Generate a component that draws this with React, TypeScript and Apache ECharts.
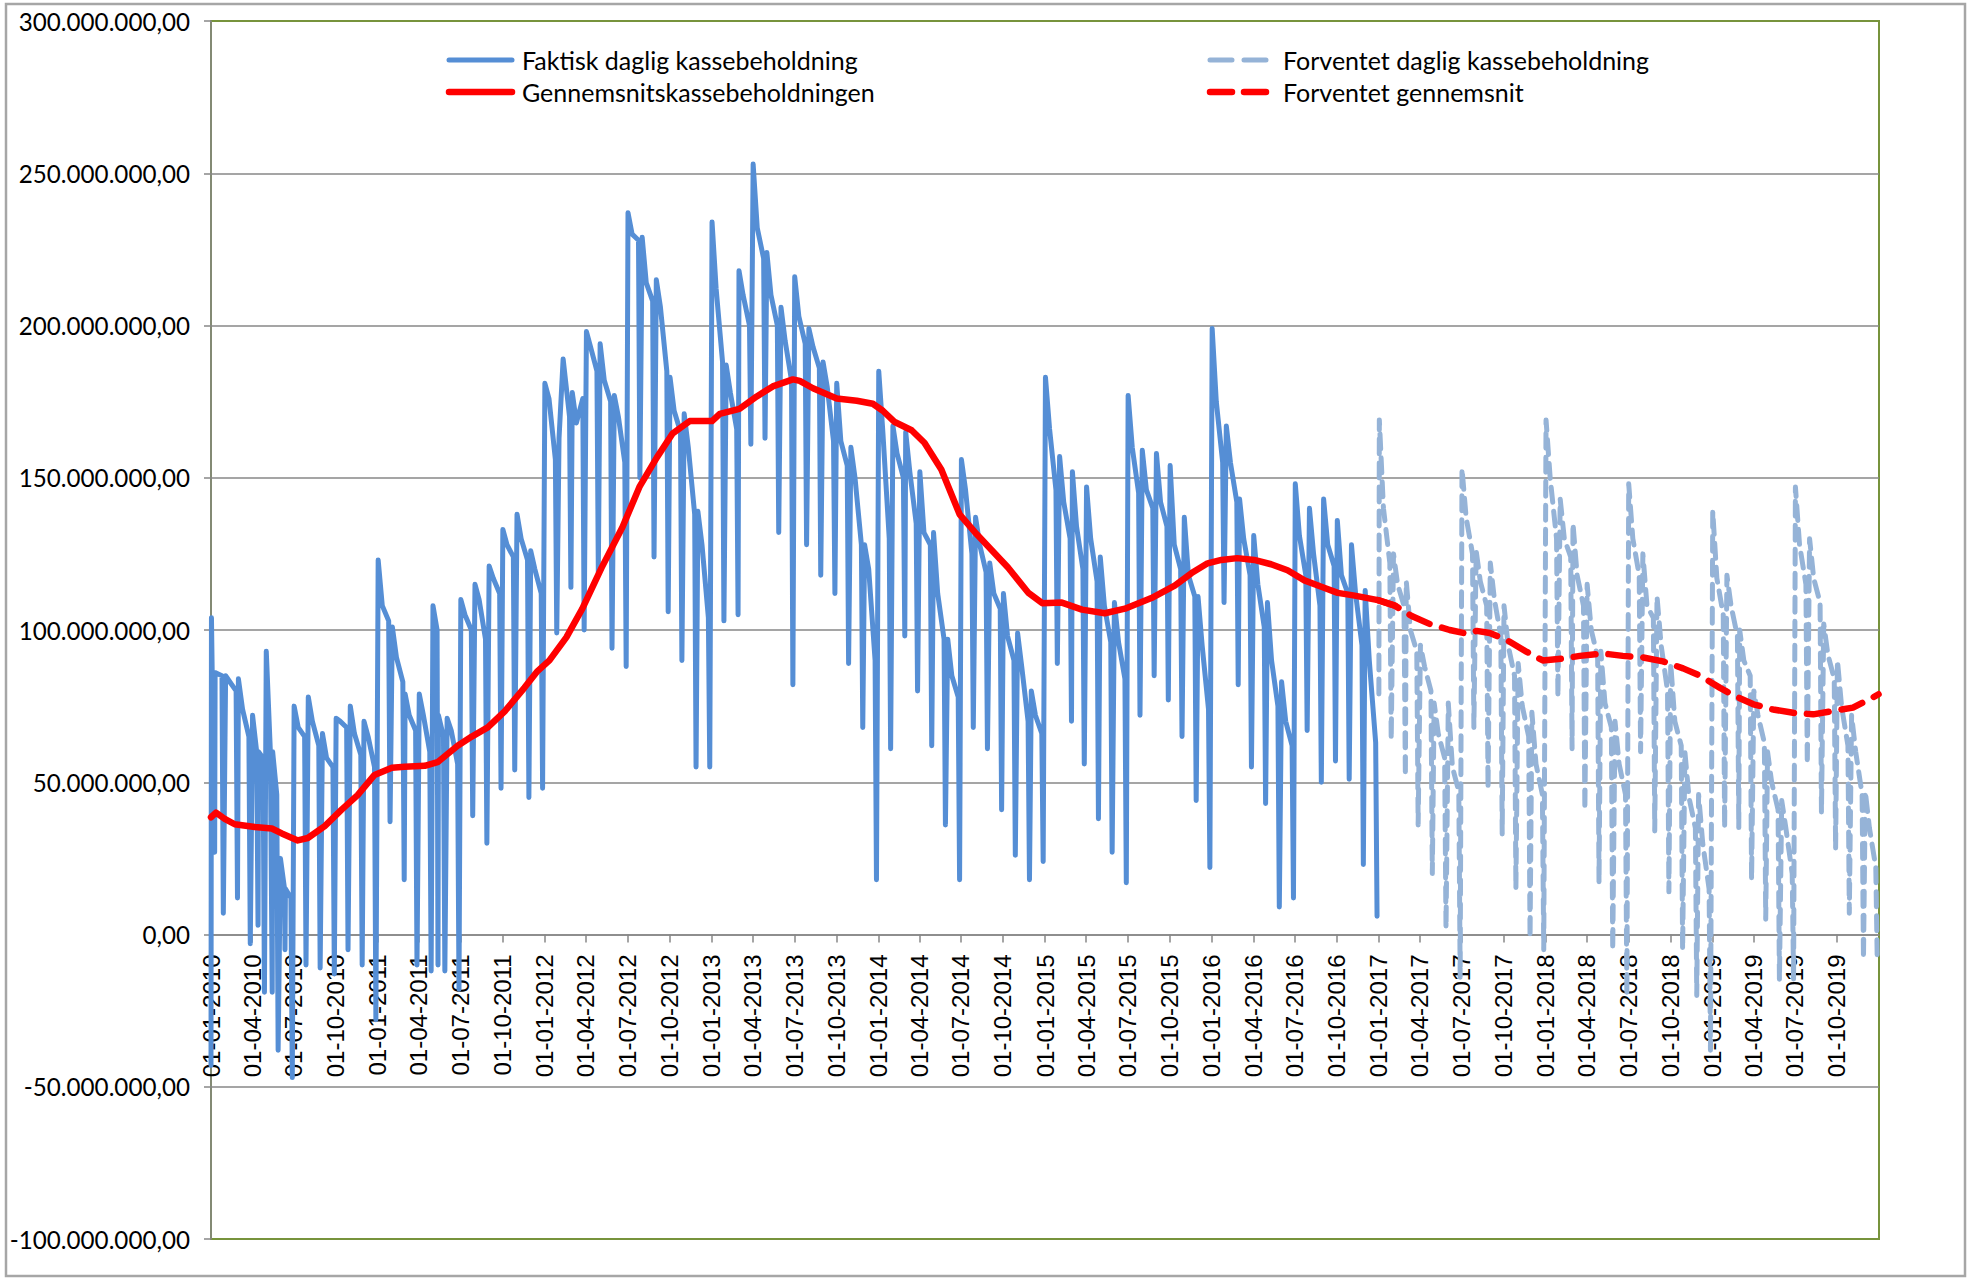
import React, { useEffect, useRef } from "react";
import * as echarts from "echarts";

// ---------- tick labels (quarterly) ----------
const quarterTickLabels = [
  "01-01-2010", "01-04-2010", "01-07-2010", "01-10-2010",
  "01-01-2011", "01-04-2011", "01-07-2011", "01-10-2011",
  "01-01-2012", "01-04-2012", "01-07-2012", "01-10-2012",
  "01-01-2013", "01-04-2013", "01-07-2013", "01-10-2013",
  "01-01-2014", "01-04-2014", "01-07-2014", "01-10-2014",
  "01-01-2015", "01-04-2015", "01-07-2015", "01-10-2015",
  "01-01-2016", "01-04-2016", "01-07-2016", "01-10-2016",
  "01-01-2017", "01-04-2017", "01-07-2017", "01-10-2017",
  "01-01-2018", "01-04-2018", "01-07-2018", "01-10-2018",
  "01-01-2019", "01-04-2019", "01-07-2019", "01-10-2019",
];
const axisStart = "2010-01-01";
const axisEnd = "2020-01-01";
const yMin = -100; // millions
const yMax = 300;
const yStep = 50;

// ---------- actual daily cash balance (millions), monthly key points 2010-01 .. 2016-12 ----------
const actualFirstYear = 2010;
const actualStart: [string, number] = ["2010-01-01", -43];
const actualPeak = [
  104, 85, 84, 72, 93, 25, 75, 78, 66, 71, 75, 70,
  123, 101, 79, 79, 108, 71, 110, 115, 121, 133, 138, 126,
  181, 163, 178, 198, 194, 177, 237, 229, 215, 183, 171, 139,
  234, 187, 218, 253, 224, 206, 216, 199, 188, 181, 160, 128,
  185, 167, 165, 152, 132, 97, 156, 137, 122, 112, 99, 80,
  183, 157, 152, 147, 124, 109, 177, 159, 158, 154, 137, 111,
  199, 167, 143, 131, 109, 83, 148, 140, 143, 136, 128, 113,
];
const actualMid = [
  86, 83, 74, 60, 60, 15, 68, 70, 58, 70, 66, 65,
  108, 91, 72, 72, 100, 67, 105, 110, 117, 128, 130, 120,
  176, 189, 168, 193, 182, 170, 230, 214, 206, 172, 160, 128,
  212, 178, 210, 232, 210, 195, 203, 193, 180, 162, 150, 120,
  165, 158, 152, 132, 112, 85, 146, 128, 112, 98, 88, 72,
  166, 142, 134, 130, 108, 96, 160, 146, 142, 128, 118, 95,
  175, 155, 130, 115, 90, 70, 131, 125, 128, 118, 112, 90,
];
const actualEnd = [
  85, 80, 65, 58, 46, 12, 65, 62, 55, 68, 59, 55,
  103, 83, 67, 60, 65, 56, 100, 97, 112, 124, 123, 112,
  156, 170, 176, 185, 175, 155, 228, 208, 185, 165, 138, 104,
  188, 166, 200, 222, 200, 182, 194, 186, 162, 154, 128, 90,
  130, 150, 135, 128, 97, 78, 125, 119, 107, 90, 70, 66,
  146, 130, 120, 116, 96, 84, 145, 140, 134, 120, 111, 74,
  155, 142, 118, 101, 75, 62, 118, 108, 121, 112, 95, 63,
];
const actualTrough = [
  7, 12, -3, -19, -38, -47, -10, -11, -13, -5, -10, -28,
  37, 18, -10, -12, -12, -18, 39, 30, 48, 54, 45, 48,
  99, 114, 100, 119, 94, 88, 150, 124, 106, 90, 55, 55,
  103, 105, 161, 163, 132, 82, 128, 118, 112, 89, 68, 18,
  61, 98, 80, 62, 36, 18, 68, 61, 41, 26, 18, 24,
  89, 70, 56, 38, 27, 17, 72, 85, 77, 65, 44, 22,
  109, 82, 55, 43, 9, 12, 67, 50, 57, 51, 23, 6,
];
// mid-month one-day dips
const dipDates = ["2010-01-09", "2010-04-14", "2010-05-15", "2010-06-12", "2011-05-13"];
const dipValues = [27, 3, -19, -5, -10];
const dipRecovered = [86, 60, 60, 15, 72];

// ---------- forecast daily cash balance (millions), 2017-01 .. 2019-12 ----------
const forecastFirstYear = 2017;
const forecastStart: [string, number] = ["2017-01-01", 79];
const forecastPeak = [
  169, 125, 116, 95, 76, 76, 153, 126, 122, 108, 89, 73,
  169, 143, 135, 115, 93, 70, 148, 125, 111, 89, 60, 46,
  139, 118, 100, 80, 60, 44, 147, 130, 102, 90, 72, 47,
];
const forecastMid = [
  140, 115, 100, 88, 66, 55, 137, 116, 110, 95, 75, 56,
  150, 130, 118, 100, 76, 56, 130, 108, 95, 70, 45, 30,
  117, 108, 90, 72, 50, 35, 128, 117, 92, 75, 60, 35,
];
const forecastEnd = [
  122, 108, 93, 80, 58, 47, 125, 108, 98, 85, 65, 46,
  130, 124, 108, 91, 68, 46, 118, 104, 80, 62, 35, 15,
  105, 98, 85, 63, 41, 20, 115, 109, 84, 62, 46, 22,
];
const forecastTrough = [
  64, 52, 36, 20, 2, -14, 68, 48, 33, 15, -1, -5,
  78, 61, 41, 17, -5, -20, 60, 34, 14, -5, -20, -38,
  35, 35, 18, 5, -15, -15, 56, 40, 28, 7, -8, -7,
];

// ---------- average lines (millions) ----------
const averageActual: [string, number][] = [
  ["2010-01-01", 38.5], ["2010-01-12", 40], ["2010-01-31", 38], ["2010-02-22", 36.2],
  ["2010-04-07", 35.3], ["2010-05-14", 34.8], ["2010-06-05", 33.2], ["2010-07-10", 30.9],
  ["2010-08-01", 31.7], ["2010-09-07", 35.6], ["2010-10-14", 41], ["2010-11-18", 45.8],
  ["2010-12-25", 52.4], ["2011-02-01", 54.8], ["2011-03-01", 55.1], ["2011-04-14", 55.4],
  ["2011-05-12", 56.6], ["2011-06-25", 62], ["2011-07-26", 65], ["2011-08-30", 68],
  ["2011-10-06", 73.3], ["2011-11-18", 81], ["2011-12-17", 86.5], ["2012-01-12", 90],
  ["2012-02-18", 97.6], ["2012-03-24", 107], ["2012-05-05", 120.4], ["2012-06-20", 133.8],
  ["2012-07-27", 147], ["2012-09-03", 156.6], ["2012-10-08", 164.6], ["2012-11-14", 168.6],
  ["2013-01-02", 168.6], ["2013-01-19", 171], ["2013-03-03", 172.6], ["2013-04-10", 176.7],
  ["2013-05-15", 180], ["2013-06-28", 182.3], ["2013-07-13", 181.8], ["2013-08-11", 179.4],
  ["2013-10-02", 176], ["2013-11-15", 175.3], ["2013-12-20", 174.3], ["2014-01-11", 172],
  ["2014-02-06", 168.3], ["2014-03-15", 165.6], ["2014-04-12", 161.5], ["2014-05-19", 152.7],
  ["2014-06-28", 138], ["2014-07-31", 132.2], ["2014-09-06", 126.3], ["2014-10-12", 120.5],
  ["2014-11-25", 112.3], ["2014-12-26", 108.8], ["2015-02-07", 109], ["2015-03-23", 106.7],
  ["2015-05-12", 105.5], ["2015-06-25", 107], ["2015-08-22", 110.5], ["2015-10-12", 114.6],
  ["2015-11-18", 118.7], ["2015-12-23", 121.9], ["2016-01-22", 123], ["2016-02-26", 123.6],
  ["2016-04-03", 123], ["2016-05-10", 121.6], ["2016-06-15", 119.6], ["2016-07-22", 116.3],
  ["2016-08-28", 114.2], ["2016-10-03", 112.2], ["2016-11-09", 111.3], ["2016-12-30", 109.8],
  ["2017-02-05", 108],
];
const averageForecast: [string, number][] = [
  ["2016-12-30", 109.8], ["2017-02-05", 108], ["2017-03-15", 104.5], ["2017-04-22", 102],
  ["2017-06-05", 100], ["2017-07-12", 98.8], ["2017-08-03", 99.7], ["2017-09-01", 99],
  ["2017-10-08", 96.7], ["2017-11-21", 92.8], ["2017-12-26", 90], ["2018-02-08", 90.6],
  ["2018-03-17", 91.5], ["2018-05-06", 92.3], ["2018-06-19", 91.5], ["2018-08-02", 91],
  ["2018-09-15", 89.7], ["2018-10-29", 87.4], ["2018-12-05", 85], ["2019-01-18", 81],
  ["2019-02-20", 78.3], ["2019-04-01", 75.6], ["2019-05-14", 73.9], ["2019-06-27", 72.8],
  ["2019-08-10", 72.3], ["2019-09-22", 73.4], ["2019-11-05", 74.5], ["2019-12-18", 77.8],
  ["2019-12-31", 78.9],
];

const seriesNames = [
  "Faktisk daglig kassebeholdning",
  "Gennemsnitskassebeholdningen",
  "Forventet daglig kassebeholdning",
  "Forventet gennemsnit",
];

// ---------- styles ----------
const ACTUAL_COLOR = "#558ED5";
const FORECAST_COLOR = "#95B3D7";
const AVG_COLOR = "#FF0000";
const ACTUAL_W = 5;
const FORECAST_W = 5;
const AVG_W = 6.5;
const FORECAST_DASH = [15, 9];
const AVG_DASH = [22, 13];

// ---------- helpers ----------
const M = 1e6;
const isoTs = (s: string) => {
  const [y, m, d] = s.split("-").map(Number);
  return Date.UTC(y, m - 1, d);
};
const dmyTs = (s: string) => {
  const [d, m, y] = s.split("-").map(Number);
  return Date.UTC(y, m - 1, d);
};
const DAY = 86400000;

function monthlyPoints(firstYear: number, peak: number[], mid: number[], end: number[], trough: number[]) {
  const pts: [number, number][] = [];
  for (let i = 0; i < peak.length; i++) {
    const y = firstYear + Math.floor(i / 12);
    const m = i % 12;
    pts.push([Date.UTC(y, m, 2), peak[i] * M]);
    pts.push([Date.UTC(y, m, 11), mid[i] * M]);
    pts.push([Date.UTC(y, m, 25), end[i] * M]);
    pts.push([Date.UTC(y, m, 28), trough[i] * M]);
  }
  return pts;
}

const fmtDK = (v: number) => {
  const neg = v < 0;
  const s = Math.abs(Math.round(v)).toString().replace(/\B(?=(\d{3})+(?!\d))/g, ".");
  return (neg ? "-" : "") + s + ",00";
};

// layout (pixels)
const GRID_LEFT = 211;
const GRID_TOP = 21;
const GRID_RIGHT = 92;
const GRID_BOTTOM = 41;
const CHART_W = 1971;
const CHART_H = 1280;
const LEGEND_COL_X = [446, 1207];
const LEGEND_ROW_Y = [60, 92];
const LEGEND_ICON_W = 69;

export default function App() {
  const ref = useRef<HTMLDivElement>(null);

  useEffect(() => {
    if (!ref.current) return;
    const chart = echarts.init(ref.current, undefined, { renderer: "svg" });

    const actualPts = monthlyPoints(actualFirstYear, actualPeak, actualMid, actualEnd, actualTrough);
    actualPts.push([isoTs(actualStart[0]), actualStart[1] * M]);
    dipDates.forEach((d, i) => {
      actualPts.push([isoTs(d), dipValues[i] * M]);
      actualPts.push([isoTs(d) + DAY, dipRecovered[i] * M]);
    });
    actualPts.sort((a, b) => a[0] - b[0]);

    const forecastPts = monthlyPoints(forecastFirstYear, forecastPeak, forecastMid, forecastEnd, forecastTrough);
    forecastPts.push([isoTs(forecastStart[0]), forecastStart[1] * M]);
    forecastPts.sort((a, b) => a[0] - b[0]);

    const avgA = averageActual.map(([d, v]) => [isoTs(d), v * M]);
    const avgF = averageForecast.map(([d, v]) => [isoTs(d), v * M]);

    const tickValues = quarterTickLabels.map(dmyTs);
    const labelByTs = new Map<number, string>();
    quarterTickLabels.forEach((l, i) => labelByTs.set(tickValues[i], l));

    // place the date axis on the zero line (offset from the grid bottom)
    const gridH = CHART_H - GRID_TOP - GRID_BOTTOM;
    const zeroOffset = -gridH * (0 - yMin) / (yMax - yMin);

    const gray = "#878787";

    // legend drawn as graphic (line sample + text)
    const legendItems = [
      { col: 0, row: 0, name: seriesNames[0], color: ACTUAL_COLOR, width: ACTUAL_W, dash: null as number[] | null },
      { col: 0, row: 1, name: seriesNames[1], color: AVG_COLOR, width: AVG_W, dash: null },
      { col: 1, row: 0, name: seriesNames[2], color: FORECAST_COLOR, width: FORECAST_W, dash: [22, 12] },
      { col: 1, row: 1, name: seriesNames[3], color: AVG_COLOR, width: AVG_W, dash: [22, 12] },
    ];
    const legendGraphics: any[] = [];
    legendItems.forEach((it) => {
      const x0 = LEGEND_COL_X[it.col];
      const y = LEGEND_ROW_Y[it.row];
      legendGraphics.push({
        type: "line", silent: true, z: 100,
        shape: { x1: x0 + 3, y1: y, x2: x0 + LEGEND_ICON_W - 3, y2: y },
        style: { stroke: it.color, lineWidth: it.width, lineCap: "round", lineDash: it.dash || undefined },
      });
      legendGraphics.push({
        type: "text", silent: true, z: 100,
        x: x0 + LEGEND_ICON_W + 7, y,
        style: { text: it.name, fontFamily: "Lato", fontSize: 25, fill: "#000", align: "left", verticalAlign: "middle" },
      });
    });

    chart.setOption({
      animation: false,
      backgroundColor: "#ffffff",
      grid: {
        left: GRID_LEFT, top: GRID_TOP, right: GRID_RIGHT, bottom: GRID_BOTTOM,
        containLabel: false, outerBoundsMode: "none",
        show: true, borderColor: "#77933C", borderWidth: 2, backgroundColor: "transparent",
      },
      xAxis: {
        type: "value",
        position: "bottom",
        offset: zeroOffset,
        min: isoTs(axisStart),
        max: isoTs(axisEnd),
        axisLine: { show: true, onZero: false, lineStyle: { color: gray, width: 1.5 } },
        axisTick: { show: true, customValues: tickValues, length: 8, lineStyle: { color: gray, width: 1.5 } },
        axisLabel: {
          customValues: tickValues,
          rotate: 90,
          margin: 20,
          formatter: (v: number) => labelByTs.get(v) ?? "",
          fontFamily: "Liberation Sans",
          fontSize: 24,
          color: "#000",
        },
        splitLine: { show: false },
      },
      yAxis: {
        type: "value",
        min: yMin * M,
        max: yMax * M,
        interval: yStep * M,
        axisLine: { show: true, onZero: false, lineStyle: { color: gray, width: 1.5 } },
        axisTick: { show: true, length: 7, lineStyle: { color: gray, width: 1.5 } },
        axisLabel: { formatter: fmtDK, margin: 21, fontFamily: "Lato", fontSize: 24.2, color: "#000" },
        splitLine: { show: true, showMinLine: false, showMaxLine: false, lineStyle: { color: gray, width: 1.5 } },
      },
      graphic: [
        {
          type: "rect", silent: true, z: -10,
          shape: { x: 6, y: 4, width: 1959, height: 1272 },
          style: { fill: "none", stroke: "#A6A6A6", lineWidth: 2.5 },
        },
        ...legendGraphics,
      ],
      series: [
        {
          name: seriesNames[0], type: "line", data: actualPts, showSymbol: false, symbol: "none", z: 2,
          itemStyle: { color: ACTUAL_COLOR },
          lineStyle: { color: ACTUAL_COLOR, width: ACTUAL_W, cap: "round", join: "round" },
        },
        {
          name: seriesNames[2], type: "line", data: forecastPts, showSymbol: false, symbol: "none", z: 3,
          itemStyle: { color: FORECAST_COLOR },
          lineStyle: { color: FORECAST_COLOR, width: FORECAST_W, type: FORECAST_DASH, cap: "round", join: "round" },
        },
        {
          name: seriesNames[1], type: "line", data: avgA, showSymbol: false, symbol: "none", z: 4,
          itemStyle: { color: AVG_COLOR },
          lineStyle: { color: AVG_COLOR, width: AVG_W, cap: "round", join: "round" },
        },
        {
          name: seriesNames[3], type: "line", data: avgF, showSymbol: false, symbol: "none", z: 5,
          itemStyle: { color: AVG_COLOR },
          lineStyle: { color: AVG_COLOR, width: AVG_W, type: AVG_DASH, cap: "round", join: "round" },
        },
      ],
    });

    return () => chart.dispose();
  }, []);

  return <div ref={ref} style={{ position: "absolute", left: 0, top: 0, width: CHART_W, height: CHART_H }} />;
}
